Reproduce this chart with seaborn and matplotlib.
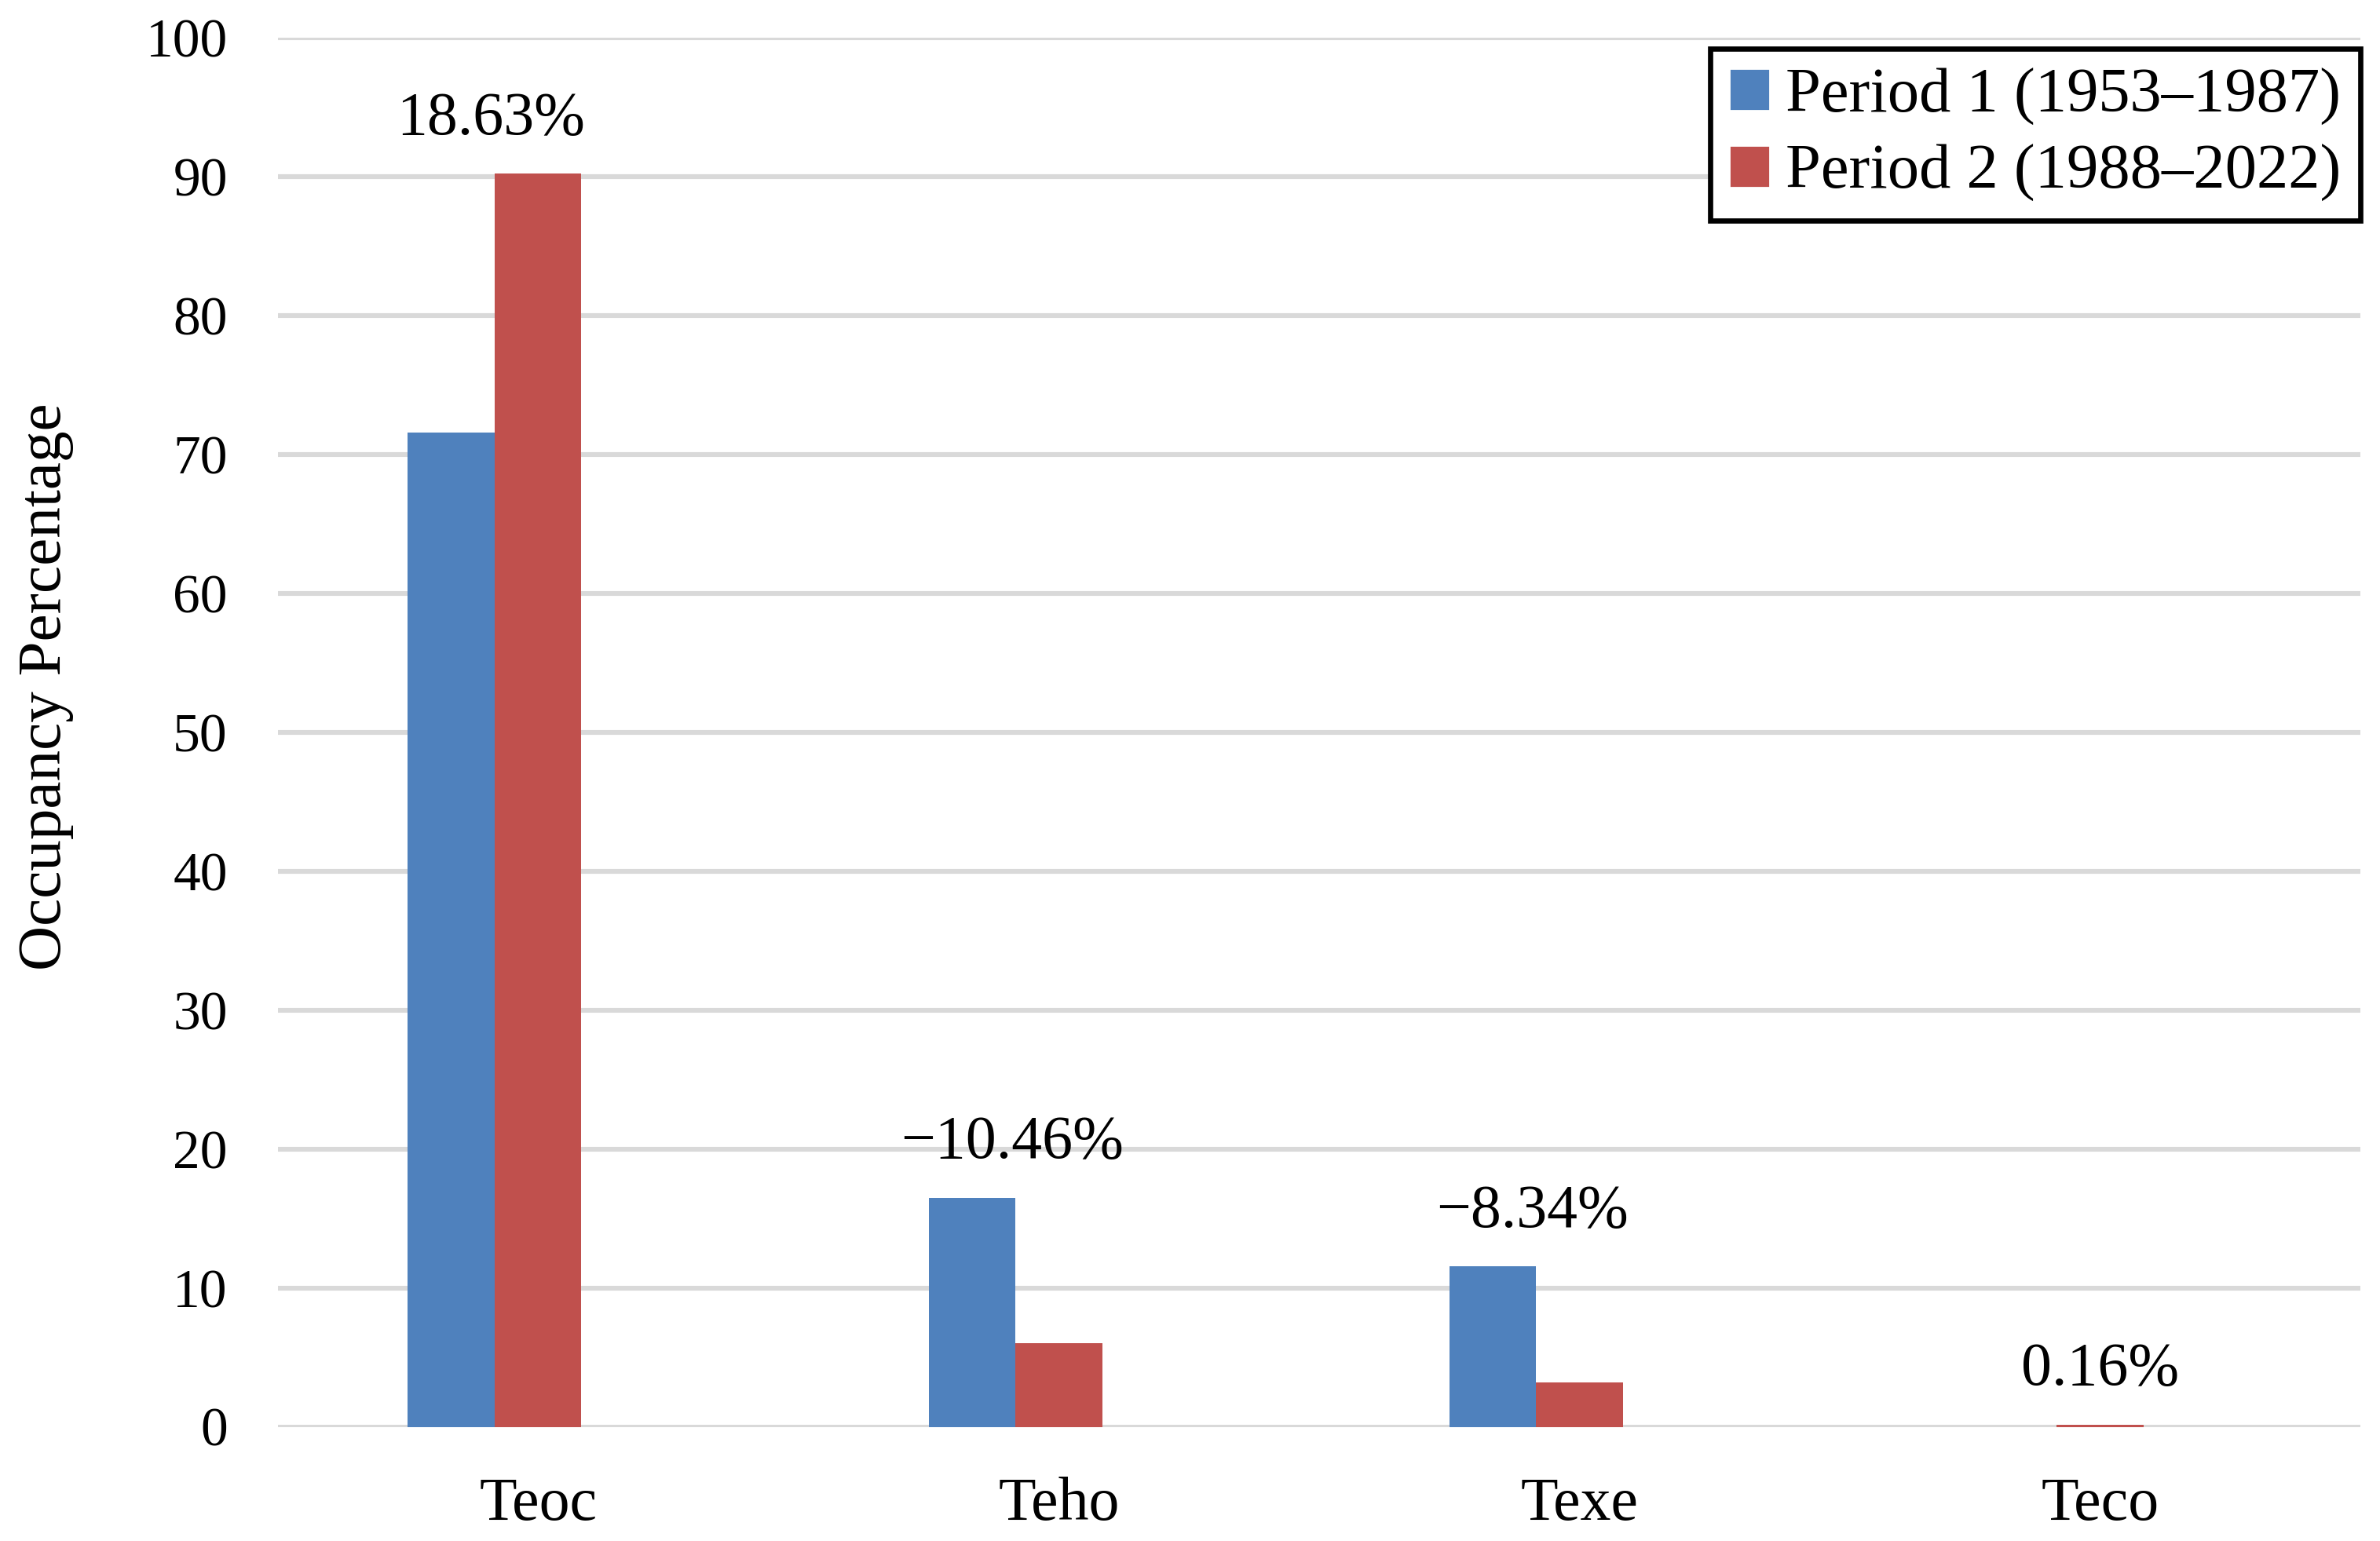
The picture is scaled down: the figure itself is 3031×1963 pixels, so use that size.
import matplotlib
matplotlib.use("Agg")
import matplotlib.pyplot as plt
import matplotlib.patches as mpatches
import seaborn as sns
import pandas as pd
import numpy as np

categories = ["Teoc", "Teho", "Texe", "Teco"]
period1 = [71.6, 16.5, 11.55, 0.0]
period2 = [90.23, 6.04, 3.21, 0.16]
change_labels = ["18.63%", "\u221210.46%", "\u22128.34%", "0.16%"]
series_names = ["Period 1 (1953\u20131987)", "Period 2 (1988\u20132022)"]
colors = ["#4F81BD", "#C0504D"]

spacer = "_spacer"
rows = []
for c, a, b in zip(categories, period1, period2):
    rows.append({"cat": c, "series": series_names[0], "value": a})
    rows.append({"cat": c, "series": series_names[1], "value": b})
    rows.append({"cat": c, "series": spacer, "value": np.nan})
df = pd.DataFrame(rows)

sns.set_theme(style="white")
plt.rcParams["font.family"] = ["Liberation Serif", "DejaVu Serif"]
plt.rcParams["text.color"] = "black"
plt.rcParams["axes.labelcolor"] = "black"
plt.rcParams["xtick.color"] = "black"
plt.rcParams["ytick.color"] = "black"

fig = plt.figure(figsize=(15.155, 9.815), dpi=200)
ax = fig.add_axes([0.1167, 0.074, 0.875, 0.9014])

sns.barplot(data=df, x="cat", y="value", hue="series",
            hue_order=series_names + [spacer],
            palette=colors + ["#FFFFFF"], order=categories,
            width=0.5, errorbar=None, saturation=1, legend=False, ax=ax,
            linewidth=0)

ax.set_ylim(0, 100)
ax.set_yticks(np.arange(0, 101, 10))
ax.set_xlim(-0.5, len(categories) - 0.5)
ax.yaxis.grid(True, color="#D9D9D9", linewidth=2.2)
ax.set_axisbelow(True)
for s in ax.spines.values():
    s.set_visible(False)
ax.tick_params(axis="both", length=0)
ax.tick_params(axis="y", labelsize=25, pad=23)
ax.tick_params(axis="x", labelsize=28, pad=23)
ax.set_xlabel("")
ax.set_ylabel("Occupancy Percentage", fontsize=28.5)
ax.yaxis.set_label_coords(-0.098, 0.533)

label_x = [-0.09, -0.09, -0.09, 0.0]
for i, (lab, a, b) in enumerate(zip(change_labels, period1, period2)):
    top = max(a, b)
    ax.text(i + label_x[i], top + 1.9, lab, ha="center", va="bottom", fontsize=28)

handles = [mpatches.Patch(facecolor=colors[0], label=series_names[0]),
           mpatches.Patch(facecolor=colors[1], label=series_names[1])]
leg = ax.legend(handles=handles, loc="upper right", bbox_to_anchor=(1.0, 0.992),
                fontsize=29, frameon=True, fancybox=False, framealpha=1,
                edgecolor="black", handlelength=0.65, handleheight=0.65,
                handletextpad=0.25, borderpad=0.3, labelspacing=0.3,
                borderaxespad=0)
leg.get_frame().set_linewidth(2.4)

fig.savefig("out.png", dpi=200)
